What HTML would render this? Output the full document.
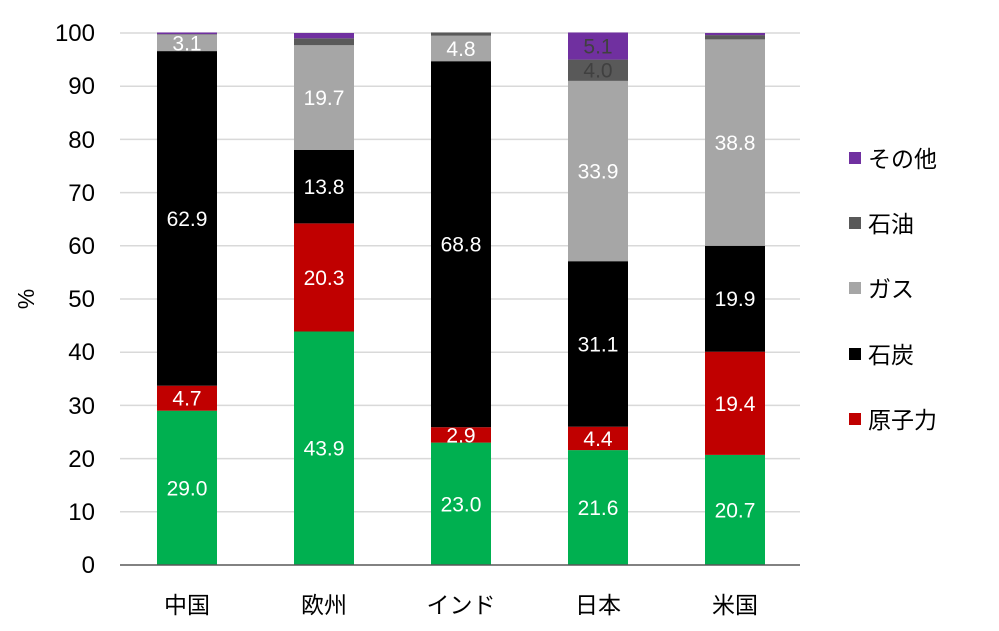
<!DOCTYPE html>
<html><head><meta charset="utf-8"><style>
body{margin:0;background:#fff;}
text{font-family:"Liberation Sans","Noto Sans CJK JP",sans-serif;}
</style></head><body>
<svg width="999" height="626" xmlns="http://www.w3.org/2000/svg">
<g stroke="#d9d9d9" stroke-width="1.5">
<line x1="120" x2="800" y1="33" y2="33"/><line x1="120" x2="800" y1="86.2" y2="86.2"/>
<line x1="120" x2="800" y1="139.4" y2="139.4"/><line x1="120" x2="800" y1="192.6" y2="192.6"/>
<line x1="120" x2="800" y1="245.8" y2="245.8"/><line x1="120" x2="800" y1="299" y2="299"/>
<line x1="120" x2="800" y1="352.2" y2="352.2"/><line x1="120" x2="800" y1="405.4" y2="405.4"/>
<line x1="120" x2="800" y1="458.6" y2="458.6"/><line x1="120" x2="800" y1="511.8" y2="511.8"/>
</g>
<g font-size="24" fill="#000" text-anchor="end">
<text x="95" y="573">0</text><text x="95" y="520">10</text><text x="95" y="467">20</text>
<text x="95" y="414">30</text><text x="95" y="360">40</text><text x="95" y="307">50</text>
<text x="95" y="254">60</text><text x="95" y="201">70</text><text x="95" y="148">80</text>
<text x="95" y="94">90</text><text x="95" y="41">100</text>
</g>
<text x="0" y="0" font-size="23" transform="translate(34,299) rotate(-90)" text-anchor="middle">%</text>
<g id="bars"></g>
<line x1="120" x2="800" y1="565" y2="565" stroke="#595959" stroke-width="1.5"/>
<g font-size="23" text-anchor="middle">
<text x="187" y="613">中国</text><text x="324" y="613">欧州</text><text x="461" y="613">インド</text>
<text x="598" y="613">日本</text><text x="735" y="613">米国</text>
</g>
<g font-size="23">
<rect x="849" y="152" width="12" height="12" fill="#7030A0"/><text x="868" y="167">その他</text>
<rect x="849" y="217" width="12" height="12" fill="#595959"/><text x="868" y="232">石油</text>
<rect x="849" y="282" width="12" height="12" fill="#A6A6A6"/><text x="868" y="297">ガス</text>
<rect x="849" y="348" width="12" height="12" fill="#000"/><text x="868" y="363">石炭</text>
<rect x="849" y="413" width="12" height="12" fill="#C00000"/><text x="868" y="428">原子力</text>
</g>
</svg>
<script>
const d=[[29.0,4.7,62.9,3.1,0.1,0.3],[43.9,20.3,13.8,19.7,1.3,1.0],[23.0,2.9,68.8,4.8,0.6,0],[21.6,4.4,31.1,33.9,4.0,5.1],[20.7,19.4,19.9,38.8,0.8,0.4]];
const c=["#00B050","#C00000","#000000","#A6A6A6","#595959","#7030A0"];
const xs=[157,294,431,568,705];const s=5.32;let h="";
d.forEach((r,i)=>{let cum=0;r.forEach((v,j)=>{if(!v)return;const y1=565-(cum+v)*s,y0=565-cum*s;
h+=`<rect x="${xs[i]}" y="${y1.toFixed(1)}" width="60" height="${(y0-y1).toFixed(1)}" fill="${c[j]}"/>`;
let lab=(j<4&&v>=2)||(i==3&&j>=4);
if(lab){const col=(i==3&&j>=4)?"#404040":"#fff";h+=`<text x="${xs[i]+30}" y="${((y0+y1)/2+7.5).toFixed(1)}" font-size="21" fill="${col}" text-anchor="middle">${v.toFixed(1)}</text>`;}
cum+=v;});});
document.getElementById("bars").innerHTML=h;
</script>
</body></html>
